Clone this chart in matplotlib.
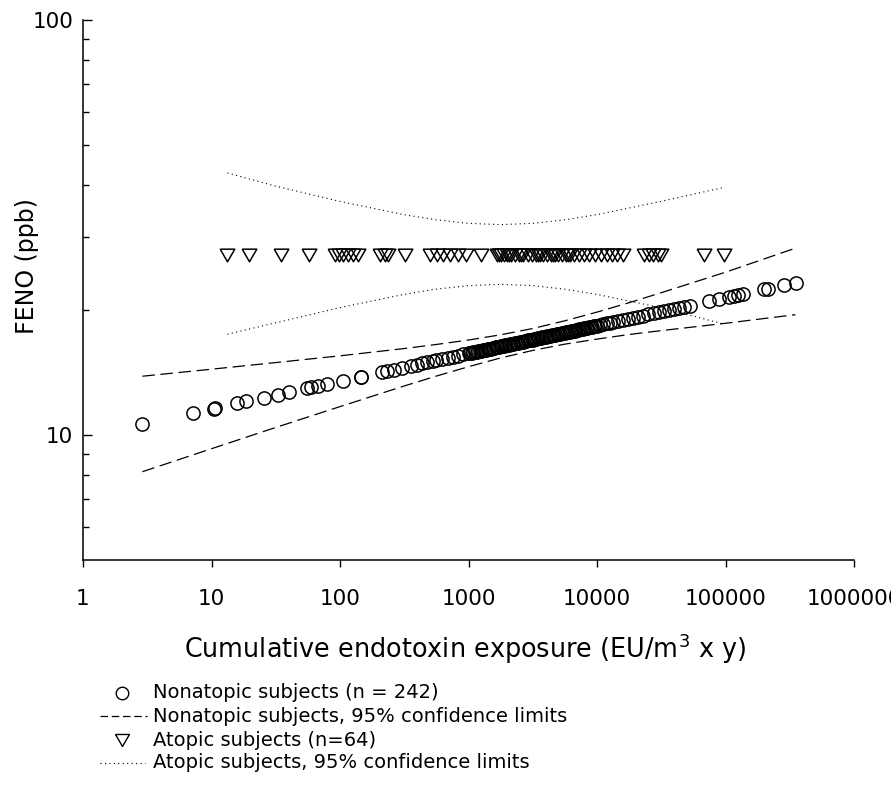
import matplotlib
matplotlib.use('Agg')
import matplotlib.pyplot as plt
from matplotlib.lines import Line2D
from matplotlib.ticker import FixedLocator, NullFormatter, FixedFormatter

plt.rcParams['font.family'] = ['DejaVu Sans']
plt.rcParams['mathtext.fontset'] = 'dejavusans'

# ---------------- data ----------------
nonatopic_exposure = [
    2.87, 7.2, 10.4, 10.7, 15.8, 18.6, 25.7, 33, 40, 55, 59.6, 67.6, 79.4,
    105, 145, 146, 214, 234, 263, 302, 355, 398, 437, 479, 525, 562, 617,
    692, 759, 832, 912,
    1000, 1059, 1122, 1189, 1259, 1334, 1413, 1496, 1585, 1679, 1778, 1884,
    1995, 2113, 2239, 2371, 2512, 2661, 2818, 2985, 3162, 3350, 3548, 3758,
    3981, 4217, 4467, 4732, 5012, 5309, 5623, 5957, 6310, 6683, 7079, 7499,
    7943, 8414, 8913, 9441, 10000, 10593, 11220, 11885, 12589, 13335,
    1029, 1091, 1155, 1223, 1296, 1373, 1454, 1540, 1632, 1728, 1830, 1939,
    2054, 2176, 2305, 2441, 2586, 2738, 2901, 3073, 3255, 3447, 3652, 3868,
    4097, 4340, 4597, 4870, 5158, 5464, 5788, 6131, 6494, 6879, 7286, 7718,
    8175, 8660, 9173, 9716,
    14454, 15849, 17378, 19055, 20893, 22909, 25119, 27542, 30200, 33113,
    36308, 39811, 43652, 47863, 52481,
    74131, 89125, 107152, 117490, 125893, 138038,
    199526, 213796, 285759, 354813,
]
nonatopic_feno = [
    10.63, 11.31, 11.58, 11.61, 11.92, 12.05, 12.31, 12.52, 12.68, 12.95,
    13.02, 13.13, 13.28, 13.52, 13.82, 13.83, 14.19, 14.28, 14.38, 14.52,
    14.68, 14.79, 14.88, 14.98, 15.07, 15.14, 15.23, 15.35, 15.45, 15.54,
    15.64,
    15.73, 15.79, 15.85, 15.91, 15.97, 16.04, 16.10, 16.16, 16.22, 16.29,
    16.35, 16.41, 16.48, 16.54, 16.60, 16.67, 16.73, 16.80, 16.86, 16.93,
    16.99, 17.06, 17.12, 17.19, 17.26, 17.32, 17.39, 17.46, 17.52, 17.59,
    17.66, 17.73, 17.79, 17.86, 17.93, 18.00, 18.07, 18.14, 18.21, 18.28,
    18.36, 18.43, 18.50, 18.57, 18.64, 18.71,
    15.76, 15.82, 15.88, 15.94, 16.01, 16.07, 16.13, 16.19, 16.26, 16.32,
    16.38, 16.45, 16.51, 16.57, 16.64, 16.70, 16.77, 16.83, 16.90, 16.96,
    17.03, 17.09, 17.16, 17.23, 17.29, 17.36, 17.43, 17.49, 17.56, 17.63,
    17.70, 17.76, 17.83, 17.90, 17.97, 18.04, 18.11, 18.18, 18.25, 18.32,
    18.82, 18.94, 19.05, 19.17, 19.29, 19.41, 19.53, 19.65, 19.77, 19.89,
    20.01, 20.14, 20.26, 20.39, 20.51,
    20.99, 21.25, 21.51, 21.65, 21.75, 21.88,
    22.43, 22.53, 22.97, 23.31,
]

nonatopic_ci_exposure = [2.9, 10, 31.6, 100, 316, 562, 1000, 1778, 3162,
                         5623, 10000, 17783, 31623, 100000, 350000]
nonatopic_ci_upper = [13.86, 14.41, 14.95, 15.52, 16.16, 16.53, 16.94, 17.44,
                      18.06, 18.85, 19.78, 20.84, 22.03, 24.68, 28.2]
nonatopic_ci_lower = [8.16, 9.27, 10.43, 11.71, 13.13, 13.87, 14.61, 15.34,
                      15.99, 16.56, 17.03, 17.47, 17.85, 18.59, 19.5]

atopic_exposure = [
    13.3, 19.7, 34.9, 57.7, 92, 98.9, 106, 116, 127, 139, 206, 222, 238, 318,
    506, 564, 628, 712, 822, 949, 1243,
    1656, 1717, 1778, 1878, 1982, 2055, 2130, 2288, 2457, 2547, 2642, 2889,
    3103, 3334, 3458, 3583, 3784, 4064, 4365, 4527, 4690, 4953, 5321, 5716,
    5922, 6141, 6597, 7215, 7891, 8630, 9612, 10710, 11920, 13030, 14260,
    15890, 23180, 25350, 27230, 29790, 31410, 67920, 97300,
]
atopic_feno_level = 27.2   # every atopic prediction sits at this level

atopic_ci_exposure = [13.3, 31.6, 100, 316, 562, 1000, 1778, 3162, 5623,
                      10000, 31623, 97300]
atopic_ci_upper = [42.8, 39.78, 36.55, 33.95, 33.0, 32.36, 32.14, 32.36, 33.0,
                   33.97, 36.57, 39.5]
atopic_ci_lower = [17.5, 18.64, 20.28, 21.83, 22.47, 22.91, 23.07, 22.91,
                   22.46, 21.82, 20.27, 18.5]

x_ticks = [1, 10, 100, 1000, 10000, 100000, 1000000]
x_tick_labels = ['1', '10', '100', '1000', '10000', '100000', '1000000']
y_ticks = [10, 100]
y_tick_labels = ['10', '100']
y_minor_ticks = [6, 7, 8, 9, 20, 30, 40, 50, 60, 70, 80, 90]

legend_labels = ['Nonatopic subjects (n = 242)',
                 'Nonatopic subjects, 95% confidence limits',
                 'Atopic subjects (n=64)',
                 'Atopic subjects, 95% confidence limits']

# ---------------- figure ----------------
W, H = 891, 801
fig = plt.figure(figsize=(W / 100, H / 100), dpi=100)
ax = fig.add_axes([83 / W, 1 - 560 / H, 771 / W, 540 / H])
ax.set_xscale('log')
ax.set_yscale('log')
ax.set_xlim(1, 1e6)
ax.set_ylim(5, 100)

tri = [(-1, 0.866), (1, 0.866), (0, -0.866), (-1, 0.866)]
DASH = (10.0, 4.5)
DOT = (1.0, 3.0)

ax.plot(nonatopic_ci_exposure, nonatopic_ci_upper, color='black', lw=0.9,
        dashes=DASH)
ax.plot(nonatopic_ci_exposure, nonatopic_ci_lower, color='black', lw=0.9,
        dashes=DASH)
ax.plot(atopic_ci_exposure, atopic_ci_upper, color='black', lw=0.8,
        dashes=DOT)
ax.plot(atopic_ci_exposure, atopic_ci_lower, color='black', lw=0.8,
        dashes=DOT)

ax.plot(nonatopic_exposure, nonatopic_feno, ls='none', marker='o', ms=9.5,
        mfc='none', mec='black', mew=1.1)
ax.plot(atopic_exposure, [atopic_feno_level] * len(atopic_exposure),
        ls='none', marker=tri, ms=10.5, mfc='none', mec='black', mew=1.1)

for s in ['top', 'right']:
    ax.spines[s].set_visible(False)
for s in ['left', 'bottom']:
    ax.spines[s].set_linewidth(1.1)

ax.xaxis.set_major_locator(FixedLocator(x_ticks))
ax.xaxis.set_major_formatter(FixedFormatter(x_tick_labels))
ax.xaxis.set_minor_locator(FixedLocator([]))
ax.xaxis.set_minor_formatter(NullFormatter())
ax.yaxis.set_major_locator(FixedLocator(y_ticks))
ax.yaxis.set_major_formatter(FixedFormatter(y_tick_labels))
ax.yaxis.set_minor_locator(FixedLocator(y_minor_ticks))
ax.yaxis.set_minor_formatter(NullFormatter())

ax.tick_params(axis='x', which='major', direction='out', length=5, width=1,
               pad=16, labelsize=15.5)
ax.tick_params(axis='y', which='major', direction='in', length=6.5, width=1,
               pad=7, labelsize=15.5)
ax.tick_params(axis='y', which='minor', direction='in', length=4, width=1)

fig.text(465 / W, 1 - 649 / H,
         r'Cumulative endotoxin exposure (EU/m$^{3}$ x y)',
         ha='center', va='center', fontsize=18.4)
fig.text(27 / W, 1 - 266 / H, 'FENO (ppb)', rotation=90,
         ha='center', va='center', fontsize=17)

# ---------------- legend (drawn in figure pixels) ----------------
rows = [693, 716, 740, 763]
def fx(px):
    return px / W
def fy(py):
    return 1 - py / H

fig.add_artist(Line2D([fx(122)], [fy(rows[0])], ls='none', marker='o', ms=9,
                      mfc='none', mec='black', mew=1.0))
fig.add_artist(Line2D([fx(100), fx(147)], [fy(rows[1])] * 2, color='black',
                      lw=0.9, dashes=(6, 3)))
fig.add_artist(Line2D([fx(122)], [fy(rows[2])], ls='none', marker=tri, ms=10,
                      mfc='none', mec='black', mew=1.0))
fig.add_artist(Line2D([fx(100), fx(145)], [fy(rows[3])] * 2, color='black',
                      lw=0.8, dashes=DOT))
for r, lab in zip(rows, legend_labels):
    fig.text(fx(153), fy(r), lab, ha='left', va='center', fontsize=14)

fig.savefig('out.png', dpi=100)
